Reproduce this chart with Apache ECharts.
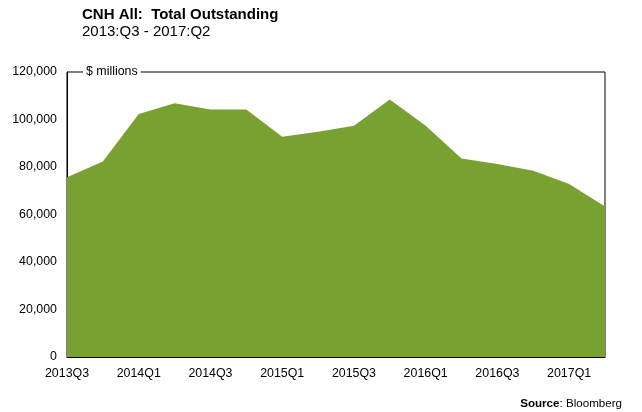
<!DOCTYPE html>
<html>
<head>
<meta charset="utf-8">
<script src="https://cdn.jsdelivr.net/npm/echarts@6/dist/echarts.min.js"></script>
<style>
  html, body { margin: 0; padding: 0; background: #fff; }
  #chart { width: 642px; height: 412px; }
</style>
</head>
<body>
<div id="chart"></div>
<script>
// quarters shown on the x axis
const quarters = [
  '2013Q3', '2013Q4', '2014Q1', '2014Q2', '2014Q3', '2014Q4',
  '2015Q1', '2015Q2', '2015Q3', '2015Q4', '2016Q1', '2016Q2',
  '2016Q3', '2016Q4', '2017Q1', '2017Q2'
]
// total outstanding, $ millions
const outstanding = [
  75700, 82300, 102300, 106800, 104200, 104200,
  92700, 94800, 97400, 108400, 97400, 83600,
  81300, 78400, 72800, 63400
]
const yTicks = { min: 0, max: 120000, interval: 20000 }

const chart = echarts.init(document.getElementById('chart'))
const font = 'Liberation Sans, Arial, sans-serif'

chart.setOption({
  animation: false,
  textStyle: { fontFamily: font },
  title: {
    text: 'CNH All:  Total Outstanding',
    subtext: '2013:Q3 - 2017:Q2',
    left: 77,
    top: 2,
    itemGap: 2,
    textStyle: { fontSize: 15, fontWeight: 'bold', color: '#000', fontFamily: font },
    subtextStyle: { fontSize: 15, color: '#000', fontFamily: font }
  },
  grid: {
    left: 67,
    right: 37,
    top: 72,
    bottom: 55,
    show: true,
    borderColor: '#000',
    borderWidth: 1
  },
  xAxis: {
    type: 'category',
    data: quarters,
    boundaryGap: false,
    axisLine: { lineStyle: { color: '#000', width: 1 } },
    axisTick: { show: false },
    axisLabel: { interval: 1, color: '#000', fontSize: 12.4, margin: 11 },
    splitLine: { show: false }
  },
  yAxis: {
    type: 'value',
    min: yTicks.min,
    max: yTicks.max,
    interval: yTicks.interval,
    axisLine: { show: true, lineStyle: { color: '#000', width: 1 } },
    axisTick: { show: false },
    axisLabel: {
      color: '#000',
      fontSize: 12.4,
      margin: 10,
      formatter: v => v.toLocaleString('en-US')
    },
    splitLine: { show: false }
  },
  series: [
    {
      type: 'line',
      data: outstanding,
      symbol: 'none',
      lineStyle: { width: 0 },
      areaStyle: { color: '#78a132', opacity: 1 }
    }
  ],
  graphic: [
    {
      type: 'text',
      left: 83,
      top: 64,
      style: {
        text: '$ millions',
        fill: '#000',
        font: '12.4px ' + font,
        backgroundColor: '#fff',
        padding: [2, 3, 2, 3]
      }
    },
    {
      type: 'text',
      right: 20,
      top: 398,
      style: {
        text: '{b|Source}: Bloomberg',
        fill: '#000',
        font: '11.6px ' + font,
        rich: {
          b: { fontWeight: 'bold', fontSize: 11.6, fontFamily: font }
        }
      }
    }
  ]
})
</script>
</body>
</html>
